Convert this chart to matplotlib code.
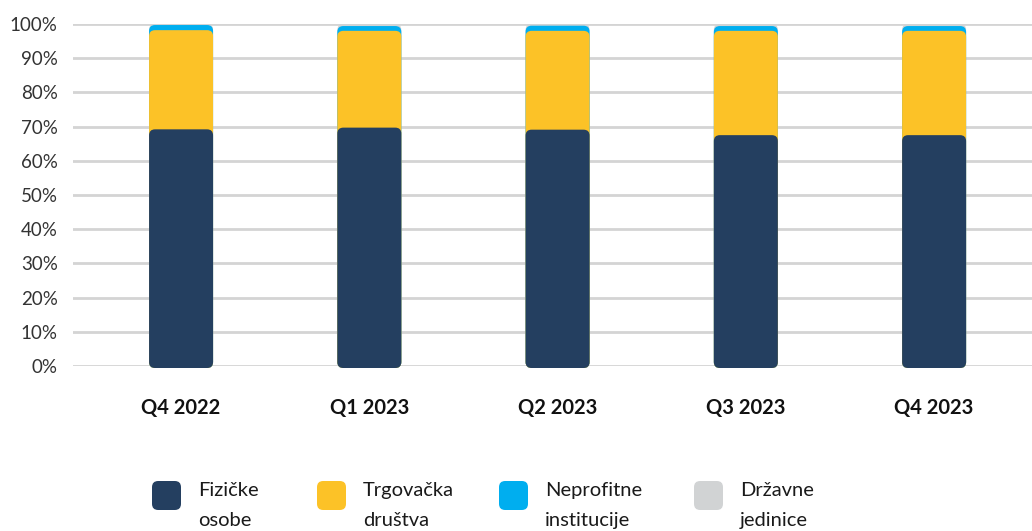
import numpy as np
import matplotlib
matplotlib.use("Agg")
import matplotlib.pyplot as plt
from matplotlib.patches import FancyBboxPatch

plt.rcParams['font.family'] = ['Lato', 'DejaVu Sans']

# data (shares in %)
quarters = ['Q4 2022', 'Q1 2023', 'Q2 2023', 'Q3 2023', 'Q4 2023']
fizicke = [69.2, 69.7, 69.1, 67.5, 67.5]
trgovacka = [29.0, 28.3, 28.9, 30.5, 30.5]
neprofitne = [1.5, 1.4, 1.5, 1.4, 1.4]
drzavne = [0.3, 0.6, 0.5, 0.6, 0.6]

series = [fizicke, trgovacka, neprofitne, drzavne]
labels = ['Fizičke\nosobe', 'Trgovačka\ndruštva', 'Neprofitne\ninstitucije', 'Državne\njedinice']
colors = ['#243f60', '#fcc227', '#00aeef', '#d1d3d4']

fig = plt.figure(figsize=(10.32, 5.31), dpi=100)
ax = fig.add_axes([73 / 1032, 1 - 366 / 531, 1 - 73 / 1032, (366 - 24) / 531])

x = np.arange(len(quarters))
width = 0.34
ax.set_xlim(-0.574, 4.52)
ax.set_ylim(0, 100)

# pixels per data unit, used to keep the corners round
px_x = 188.25
px_y = 3.42
r = 6 / px_x
aspect = (6 / px_y) / r
base = -2 / px_y  # bars reach a touch below the 0% line

cum = np.cumsum(np.array(series), axis=0)
# draw tallest stack first so lower segments sit on top
for i in range(len(series) - 1, -1, -1):
    for xi, top in zip(x, cum[i]):
        p = FancyBboxPatch((xi - width / 2, base), width, top - base,
                           boxstyle=f"round,pad=0,rounding_size={r}",
                           mutation_aspect=aspect, clip_on=False,
                           facecolor=colors[i], edgecolor='none', zorder=3)
        ax.add_patch(p)

ax.set_yticks(np.arange(0, 101, 10))
ax.set_yticklabels([f'{v}%' for v in range(0, 101, 10)], fontsize=13.5, color='#333333')
ax.yaxis.grid(True, color='#d4d4d4', linewidth=2)
ax.set_axisbelow(True)
ax.tick_params(axis='y', length=0, pad=11)
ax.set_xticks(x)
ax.set_xticklabels(quarters, fontsize=14.5, fontweight='bold', color='#111111')
ax.tick_params(axis='x', length=0, pad=23)
for s in ax.spines.values():
    s.set_visible(False)

# legend drawn by hand
leg_x = [152, 317, 499, 694]
for lx, lab, c in zip(leg_x, labels, colors):
    sq = FancyBboxPatch((lx / 1032, 1 - 510 / 531), 29 / 1032, 29 / 531,
                        boxstyle="round,pad=0,rounding_size=0.006",
                        mutation_aspect=1032 / 531,
                        transform=fig.transFigure, facecolor=c, edgecolor='none')
    fig.patches.append(sq)
    fig.text((lx + 46) / 1032, 1 - 482 / 531, lab, fontsize=14.5, color='#1a1a1a',
             va='top', ha='left', linespacing=1.9)

fig.savefig('out.png', dpi=100)
